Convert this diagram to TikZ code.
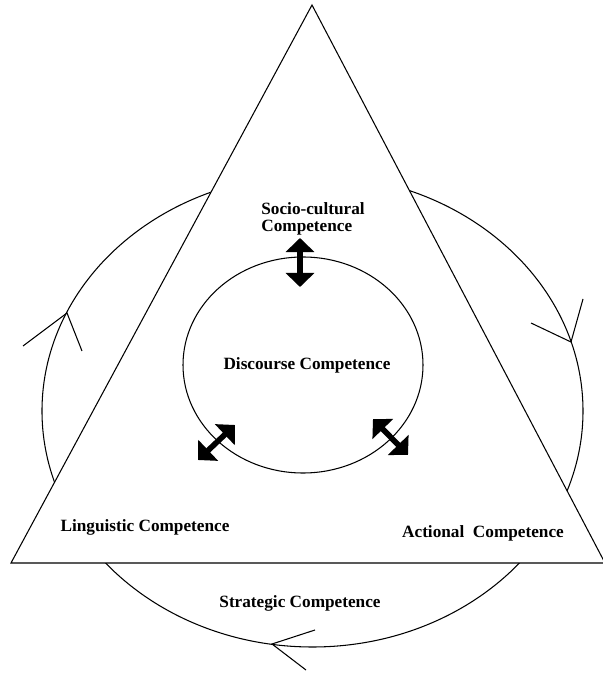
\documentclass[tikz,border=0pt]{standalone}
\usepackage{fontspec}
\setmainfont{Liberation Serif}
\usetikzlibrary{arrows.meta}
\tikzset{
  label text/.style={font=\fontsize{9.8}{9.6}\selectfont\bfseries},
  double arrow/.style={line width=3.2pt, {Triangle[width=16pt,length=8pt]}-{Triangle[width=16pt,length=8pt]}},
  chevron/.style={line width=0.6pt}
}
\begin{document}
\begin{tikzpicture}[line width=0.6pt]
                \useasboundingbox (0,0) rectangle (12.06,13.5);

                % Outer cycle (strategic competence)
                \draw (6.25,5.28) ellipse [x radius=5.41, y radius=4.72];

                % Triangle, filled white so that it hides the cycle inside it
                \filldraw[fill=white] (6.24,13.4) -- (0.22,2.24) -- (12.1,2.24) -- cycle;

                % Inner circle (discourse competence)
                \draw (6.06,6.2) ellipse [x radius=2.4, y radius=2.16];

                % Labels
                \node[label text, anchor=west, align=left] (socio) at (5.1,9.12) {Socio-cultural\\Competence};
                \node[label text] (discourse) at (6.14,6.2) {Discourse Competence};
                \node[label text] (linguistic) at (2.9,2.96) {Linguistic Competence};
                \node[label text] (actional) at (9.66,2.84) {Actional\ \ Competence};
                \node[label text] (strategic) at (6.0,1.44) {Strategic Competence};

                % Double arrows between the corners and the inner circle
                \coordinate (top a) at (6.0,8.74);
                \coordinate (top b) at (6.0,7.76);
                \coordinate (left a) at (3.96,4.3);
                \coordinate (left b) at (4.7,5.0);
                \coordinate (right a) at (7.46,5.12);
                \coordinate (right b) at (8.16,4.4);
                \draw[double arrow] (top a) -- (top b);
                \draw[double arrow] (left a) -- (left b);
                \draw[double arrow] (right a) -- (right b);

                % Open arrow heads on the outer cycle (clockwise)
                \coordinate (tip left) at (1.34,7.24);
                \coordinate (tip right) at (11.42,6.66);
                \coordinate (tip bottom) at (5.44,0.62);
                \draw[chevron] (0.46,6.58) -- (tip left) -- (1.64,6.48);
                \draw[chevron] (10.62,7.04) -- (tip right) -- (11.66,7.52);
                \draw[chevron] (6.3,0.9) -- (tip bottom) -- (6.12,0.1);
\end{tikzpicture}
\end{document}
